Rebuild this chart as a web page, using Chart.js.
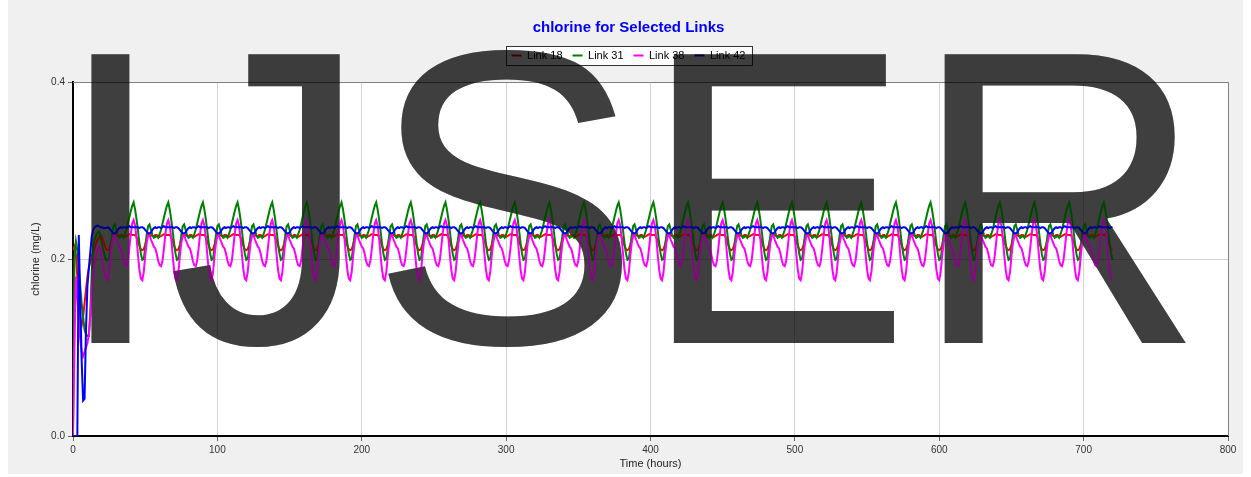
<!DOCTYPE html>
<html>
<head>
<meta charset="utf-8">
<title>chlorine for Selected Links</title>
<script src="https://cdn.jsdelivr.net/npm/chart.js@4.4.1/dist/chart.umd.min.js"></script>
<style>
  html, body { margin: 0; padding: 0; background: #fff; }
  #panel { position: absolute; left: 8px; top: 0; width: 1235px; height: 474px; background: #f0f0f0; }
  canvas { display: block; }
</style>
</head>
<body>
<div id="panel"><canvas id="myChart" width="1235" height="474"></canvas></div>
<script>
// Definicion de Variables
const titulo    = "chlorine for Selected Links";
const links     = ["Link 18", "Link 31", "Link 38", "Link 42"];
const colores   = ["#ff0000", "#008000", "#ff00ff", "#0000ff"];
const ticksY    = [0, 0.2, 0.4];
const horasSim  = 720;

// primeras 24 horas (arranque de la simulacion), mg/L
const arranque18 = [0.210,0.214,0.205,0.180,0.150,0.130,0.125,0.135,0.150,0.165,0.180,0.190,
                    0.197,0.203,0.208,0.213,0.218,0.222,0.224,0.227,0.225,0.220,0.215,0.211];
const arranque31 = [0.000,0.200,0.220,0.210,0.190,0.170,0.150,0.135,0.120,0.115,0.113,0.113,
                    0.140,0.185,0.215,0.222,0.226,0.230,0.231,0.226,0.218,0.210,0.203,0.199];
const arranque38 = [0.000,0.100,0.180,0.160,0.130,0.110,0.095,0.090,0.095,0.100,0.105,0.115,
                    0.135,0.165,0.185,0.198,0.205,0.210,0.214,0.210,0.200,0.190,0.182,0.178];
const arranque42 = [0.000,0.000,0.000,0.000,0.227,0.155,0.085,0.040,0.042,0.120,0.170,0.190,
                    0.208,0.226,0.233,0.236,0.237,0.238,0.237,0.236,0.236,0.235,0.235,0.235];

// ciclo diario que se repite (hora del dia 0..23), mg/L
const ciclo18 = [0.210,0.211,0.216,0.223,0.227,0.228,0.227,0.226,0.226,0.227,0.227,0.226,
                 0.225,0.226,0.227,0.228,0.228,0.227,0.227,0.227,0.225,0.220,0.215,0.211];
const ciclo31 = [0.199,0.200,0.212,0.227,0.237,0.239,0.233,0.227,0.224,0.225,0.226,0.224,
                 0.228,0.233,0.240,0.247,0.254,0.260,0.264,0.256,0.245,0.232,0.218,0.206];
const ciclo38 = [0.176,0.185,0.203,0.218,0.226,0.227,0.222,0.218,0.214,0.212,0.206,0.198,
                 0.193,0.192,0.198,0.212,0.228,0.240,0.244,0.238,0.224,0.205,0.188,0.178];
const ciclo42 = [0.236,0.235,0.233,0.231,0.229,0.229,0.230,0.233,0.235,0.236,0.235,0.236,
                 0.236,0.235,0.236,0.237,0.236,0.236,0.236,0.236,0.236,0.236,0.235,0.236];

const arranques = [arranque18, arranque31, arranque38, arranque42];
const ciclos    = [ciclo18, ciclo31, ciclo38, ciclo42];

// armar la serie: arranque y luego el patron diario
function armarSerie(arranque, ciclo) {
  const puntos = [];
  for (let h = 0; h <= horasSim; h++) {
    const v = h < arranque.length ? arranque[h] : ciclo[h % 24];
    puntos.push({ x: h, y: v });
  }
  return puntos;
}

const fuente = '"Liberation Sans", Arial, sans-serif';
Chart.defaults.font.family = fuente;
Chart.defaults.color = "#333";

function pintarMarca(ctx, alpha) {
  ctx.save();
  ctx.translate(46, 343);
  ctx.scale(1, 1.034);
  ctx.font = "406px " + fuente;
  ctx.fillStyle = "rgba(0,0,0," + alpha + ")";
  ctx.textBaseline = "alphabetic";
  ctx.textAlign = "left";
  ctx.fillText("IJSER", 0, 0);
  ctx.restore();
}

const extras = {
  id: "extras",
  beforeDraw(chart) {
    const { ctx, chartArea: a } = chart;
    ctx.save();
    ctx.fillStyle = "#fff";
    ctx.fillRect(a.left, a.top, a.right - a.left, a.bottom - a.top);
    // caja de la leyenda
    const hb = chart.legend.legendHitBoxes;
    if (hb && hb.length) {
      const first = hb[0], last = hb[hb.length - 1];
      const x0 = first.left - 6, x1 = last.left + last.width + 6;
      const y0 = first.top - 4, y1 = first.top + first.height + 4;
      ctx.fillStyle = "#fff";
      ctx.fillRect(x0, y0, x1 - x0, y1 - y0);
      ctx.strokeStyle = "#333";
      ctx.lineWidth = 1;
      ctx.strokeRect(Math.round(x0) + 0.5, Math.round(y0) + 0.5, Math.round(x1 - x0), Math.round(y1 - y0));
    }
    ctx.restore();
  },
  beforeDatasetsDraw(chart) {
    const { ctx, chartArea: a } = chart;
    ctx.save();
    ctx.strokeStyle = "#808080";
    ctx.lineWidth = 1;
    ctx.beginPath();
    ctx.moveTo(a.left, Math.round(a.top) + 0.5);
    ctx.lineTo(Math.round(a.right) + 0.5, Math.round(a.top) + 0.5);
    ctx.lineTo(Math.round(a.right) + 0.5, a.bottom);
    ctx.stroke();
    ctx.restore();
    pintarMarca(ctx, 0.545);
  },
  afterDraw(chart) {
    pintarMarca(chart.ctx, 0.45);
  }
};

const datasets = links.map((nombre, i) => ({
  label: nombre,
  data: armarSerie(arranques[i], ciclos[i]),
  borderColor: colores[i],
  backgroundColor: colores[i],
  borderWidth: 2,
  pointRadius: 0,
  tension: 0,
  order: links.length - 1 - i
}));

const config = {
  type: "line",
  data: { datasets },
  plugins: [extras],
  options: {
    responsive: false,
    animation: false,
    devicePixelRatio: 1,
    layout: { padding: { left: 21, right: 15, top: 0, bottom: 0 } },
    plugins: {
      title: {
        display: true,
        text: titulo,
        color: "#0000ff",
        font: { size: 15, weight: "bold" },
        padding: { top: 19, bottom: 3 }
      },
      legend: {
        display: true,
        position: "top",
        labels: {
          color: "#000",
          font: { size: 11 },
          boxWidth: 10,
          boxHeight: 2,
          padding: 10,
          sort: (a, b) => a.datasetIndex - b.datasetIndex,
          generateLabels(chart) {
            const items = Chart.defaults.plugins.legend.labels.generateLabels(chart);
            items.forEach(it => { it.lineWidth = 0; });
            return items;
          }
        }
      },
      tooltip: { enabled: false }
    },
    scales: {
      x: {
        type: "linear",
        position: "bottom",
        min: 0,
        max: 800,
        ticks: { stepSize: 100, padding: 3, font: { size: 10 }, maxRotation: 0 },
        grid: { color: "#d4d4d4", tickColor: "#666", tickLength: 5 },
        border: { display: true, color: "#000", width: 2 },
        title: { display: true, text: "Time (hours)", font: { size: 11 }, color: "#222", padding: { top: 0, bottom: 3 } },
        afterFit(s) { s.height = 38; }
      },
      xTop: {
        type: "linear",
        position: "top",
        display: true,
        ticks: { display: false },
        grid: { display: false },
        border: { display: false },
        afterFit(s) { s.height = 11; }
      },
      y: {
        min: 0,
        max: 0.4,
        afterBuildTicks(s) { s.ticks = ticksY.map(v => ({ value: v })); },
        ticks: { padding: 3, font: { size: 10 }, callback: v => Number(v).toFixed(1) },
        grid: { color: "#d4d4d4", tickColor: "#666", tickLength: 5 },
        border: { display: true, color: "#000", width: 2 },
        title: { display: true, text: "chlorine (mg/L)", font: { size: 11 }, color: "#222", padding: { top: 0, bottom: 0 } },
        afterFit(s) { s.width = 44; }
      }
    }
  }
};

new Chart(document.getElementById("myChart"), config);
</script>
</body>
</html>
